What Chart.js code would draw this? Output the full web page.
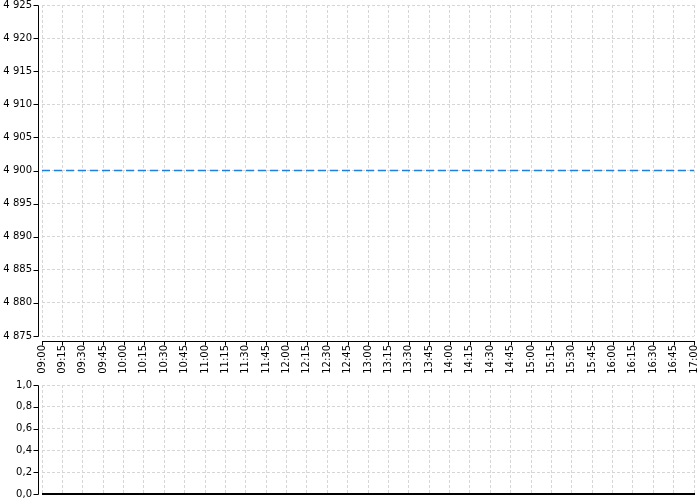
<!DOCTYPE html>
<html><head><meta charset="utf-8">
<script src="https://cdn.jsdelivr.net/npm/chart.js@4"></script>
<style>
html,body{margin:0;padding:0;background:#fff;}
#wrap{position:relative;width:700px;height:500px;overflow:hidden;}
#c1{position:absolute;left:0;top:0;}
#c2{position:absolute;left:0;top:378px;}
</style></head><body>
<div id="wrap"><canvas id="c1" width="700" height="378"></canvas><canvas id="c2" width="700" height="122"></canvas></div>
<script>
const timeLabels = ['09:00','09:15','09:30','09:45','10:00','10:15','10:30','10:45','11:00','11:15','11:30','11:45','12:00','12:15','12:30','12:45','13:00','13:15','13:30','13:45','14:00','14:15','14:30','14:45','15:00','15:15','15:30','15:45','16:00','16:15','16:30','16:45','17:00'];
const priceLevelTimes = ['09:00','17:00'];
const priceLevelValues = [4900, 4900];
const priceAxisMin = 4875, priceAxisMax = 4925, priceAxisStep = 5;
const volumeValues = [];
const volumeAxisMin = 0, volumeAxisMax = 1, volumeAxisStep = 0.2;

Chart.defaults.font.family = "'DejaVu Sans', sans-serif";
Chart.defaults.font.size = 10;
Chart.defaults.color = '#000';

const GRID = '#d6d6d6';
const offsetAxes = {
  id: 'offsetAxes',
  afterDraw(chart, args, opts) {
    const ctx = chart.ctx, a = chart.chartArea;
    const xs = chart.scales.x, ys = chart.scales.y;
    ctx.save();
    ctx.strokeStyle = '#000';
    ctx.lineWidth = 1;
    const yTop = Math.round(ys.getPixelForValue(ys.max)) + 0.5;
    const yBot = Math.round(ys.getPixelForValue(ys.min)) + 0.5;
    const yx = Math.round(a.left - opts.yGap) + 0.5;
    ctx.beginPath();
    ctx.moveTo(yx, yTop); ctx.lineTo(yx, yBot);
    ys.ticks.forEach((t) => {
      const py = Math.round(ys.getPixelForValue(t.value)) + 0.5;
      ctx.moveTo(yx - 5, py); ctx.lineTo(yx, py);
    });
    ctx.stroke();
    ctx.lineWidth = opts.xLineWidth;
    const xy = opts.xLineWidth === 1 ? Math.round(a.bottom + opts.xGap) + 0.5 : Math.round(a.bottom + opts.xGap);
    ctx.beginPath();
    ctx.moveTo(Math.round(a.left), xy); ctx.lineTo(Math.round(a.right) + 1, xy);
    ctx.stroke();
    if (opts.xTicks) {
      ctx.lineWidth = 1;
      ctx.beginPath();
      xs.ticks.forEach((t, i) => {
        const px = Math.round(xs.getPixelForTick(i)) + 0.5;
        ctx.moveTo(px, xy); ctx.lineTo(px, xy + 4);
      });
      ctx.stroke();
    }
    ctx.restore();
  }
};

function fitY(s) { s.width = 42; s.paddingTop = 0; s.paddingBottom = 0; }
function fitX(h) { return function (s) { s.height = h; s.paddingLeft = 0; s.paddingRight = 0; }; }

new Chart(document.getElementById('c1'), {
  type: 'line',
  data: {
    labels: timeLabels,
    datasets: [{
      data: priceLevelTimes.map((t, i) => ({ x: t, y: priceLevelValues[i] })),
      borderColor: '#1f80e0', borderWidth: 1.5, borderDash: [8, 4],
      pointRadius: 0, fill: false, tension: 0
    }]
  },
  options: {
    responsive: false, animation: false, events: [],
    layout: { padding: { top: 5, right: 6, left: 0, bottom: 0 } },
    plugins: { legend: { display: false }, tooltip: { enabled: false },
      offsetAxes: { xGap: 5, yGap: 4, xLineWidth: 1, xTicks: true } },
    scales: {
      x: {
        type: 'category', offset: false,
        grid: { color: GRID, drawTicks: false, lineWidth: 1 },
        border: { display: false, dash: [3, 2] },
        ticks: { autoSkip: false, minRotation: 90, maxRotation: 90, padding: 9, color: '#000' },
        afterFit: fitX(42)
      },
      y: {
        min: priceAxisMin, max: priceAxisMax,
        grid: { color: GRID, drawTicks: false },
        border: { display: false, dash: [3, 2] },
        ticks: { stepSize: priceAxisStep, padding: 10, color: '#000',
          callback: v => String(v).replace(/\B(?=(\d{3})+(?!\d))/g, ' ') },
        afterFit: fitY
      }
    }
  },
  plugins: [offsetAxes]
});

new Chart(document.getElementById('c2'), {
  type: 'bar',
  data: { labels: timeLabels, datasets: [{ data: volumeValues, backgroundColor: '#1f80e0' }] },
  options: {
    responsive: false, animation: false, events: [],
    layout: { padding: { top: 7, right: 6, left: 0, bottom: 0 } },
    plugins: { legend: { display: false }, tooltip: { enabled: false },
      offsetAxes: { xGap: 0, yGap: 4, xLineWidth: 2, xTicks: false } },
    scales: {
      x: {
        type: 'category', offset: false,
        grid: { color: GRID, drawTicks: false, offset: false },
        border: { display: false, dash: [3, 2] },
        ticks: { display: false },
        afterFit: fitX(6)
      },
      y: {
        min: volumeAxisMin, max: volumeAxisMax,
        grid: { color: GRID, drawTicks: false },
        border: { display: false, dash: [3, 2] },
        ticks: { stepSize: volumeAxisStep, padding: 10, color: '#000',
          callback: v => Number(v).toFixed(1).replace('.', ',') },
        afterFit: fitY
      }
    }
  },
  plugins: [offsetAxes]
});
</script>
</body></html>
